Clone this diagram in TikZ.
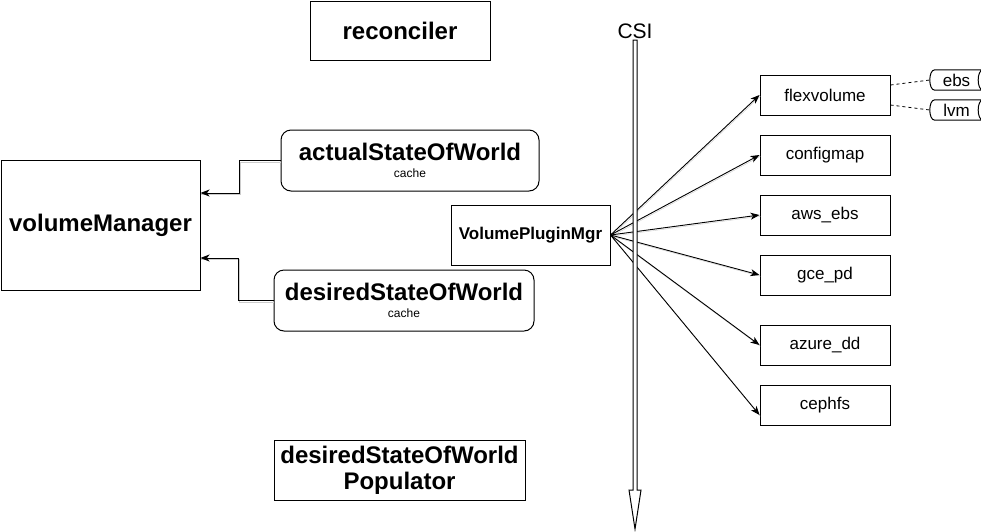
\documentclass[tikz,border=0pt]{standalone}
\usepackage{fontspec}
\setmainfont{Liberation Sans}
\usetikzlibrary{arrows.meta}

\tikzset{
    title/.style={draw=black, line width=1pt, inner sep=0pt, align=center, font=\fontsize{24}{26}\selectfont\bfseries},
    plugin/.style={draw=black, line width=1pt, inner sep=0pt, minimum width=130, minimum height=40, font=\fontsize{17}{20}\selectfont},
    tag/.style={inner sep=0pt, minimum width=53, minimum height=20, font=\fontsize{17}{20}\selectfont},
    arr/.style={line width=0.9pt, -{Stealth[length=9pt,width=7pt,inset=2.5pt]}, preaction={draw=black!20, -, transform canvas={shift={(0.8pt,-1.3pt)}}}},
}

\begin{document}
\begin{tikzpicture}[x=1pt, y=-1pt]
        \useasboundingbox (0,0) rectangle (981,531);

        \node[title, minimum width=180, minimum height=59] (reconciler) at (400,30.5) {reconciler};
        \node[title, minimum width=199, minimum height=130] (volumeManager) at (100.5,225) {volumeManager};
        \node[title, rounded corners=10, minimum width=258, minimum height=61] (actualState) at (410,160.5) {actualStateOfWorld\\[-9pt]{\fontsize{12}{14}\selectfont\mdseries cache}};
        \node[title, rounded corners=10, minimum width=260, minimum height=61] (desiredState) at (404,300.5) {desiredStateOfWorld\\[-9pt]{\fontsize{12}{14}\selectfont\mdseries cache}};
        \node[title, minimum width=251, minimum height=60] (populator) at (399.5,470) {desiredStateOfWorld\\Populator};
        \node[title, font=\fontsize{17}{20}\selectfont\bfseries, minimum width=159, minimum height=60] (pluginMgr) at (530.5,235) {VolumePluginMgr};

        % plugins on the right
        \node[plugin] (flexvolume) at (825,95) {flexvolume};
        \node[plugin] (configmap) at (825,155) {configmap};
        \node[plugin] (awsEbs) at (825,215) {aws\_ebs};
        \node[plugin] (gcePd) at (825,275) {gce\_pd};
        \node[plugin] (azureDd) at (825,345) {azure\_dd};
        \node[plugin] (cephfs) at (825,405) {cephfs};

        \node[tag] (ebs) at (956.5,80) {ebs};
        \node[tag] (lvm) at (956.5,110) {lvm};
        \draw[line width=1pt] ([xshift=5]ebs.north west) -- (ebs.north east) .. controls +(-6.7,0) and +(-6.7,0) .. (ebs.south east) -- ([xshift=5]ebs.south west) .. controls +(-6.7,0) and +(-6.7,0) .. ([xshift=5]ebs.north west);
        \draw[line width=1pt] ([xshift=5]lvm.north west) -- (lvm.north east) .. controls +(-6.7,0) and +(-6.7,0) .. (lvm.south east) -- ([xshift=5]lvm.south west) .. controls +(-6.7,0) and +(-6.7,0) .. ([xshift=5]lvm.north west);
        \draw[dashed, line width=0.8pt] ([yshift=10]flexvolume.east) -- (ebs.west);
        \draw[dashed, line width=0.8pt] ([yshift=-10]flexvolume.east) -- (lvm.west);

        % caches into volumeManager
        \draw[arr] (actualState.west) -- ++(-41,0) |- ([yshift=32]volumeManager.east);
        \draw[arr] (desiredState.west) -- ++(-35,0) |- ([yshift=-33]volumeManager.east);

        \draw[arr] (pluginMgr.east) -- (flexvolume.west);
        \draw[arr] (pluginMgr.east) -- (configmap.west);
        \draw[arr] (pluginMgr.east) -- (awsEbs.west);
        \draw[arr] (pluginMgr.east) -- (gcePd.west);
        \draw[arr] (pluginMgr.east) -- (azureDd.west);
        \draw[arr] (pluginMgr.east) -- ([yshift=-10]cephfs.west);

        % CSI line
        \node[font=\fontsize{21}{24}\selectfont] (csi) at (635,31) {CSI};
        \draw[line width=1pt, fill=white] (633,40) -- (633,490) -- (629,490) -- (635,529) -- (641,490) -- (637,490) -- (637,40) -- cycle;
\end{tikzpicture}
\end{document}
